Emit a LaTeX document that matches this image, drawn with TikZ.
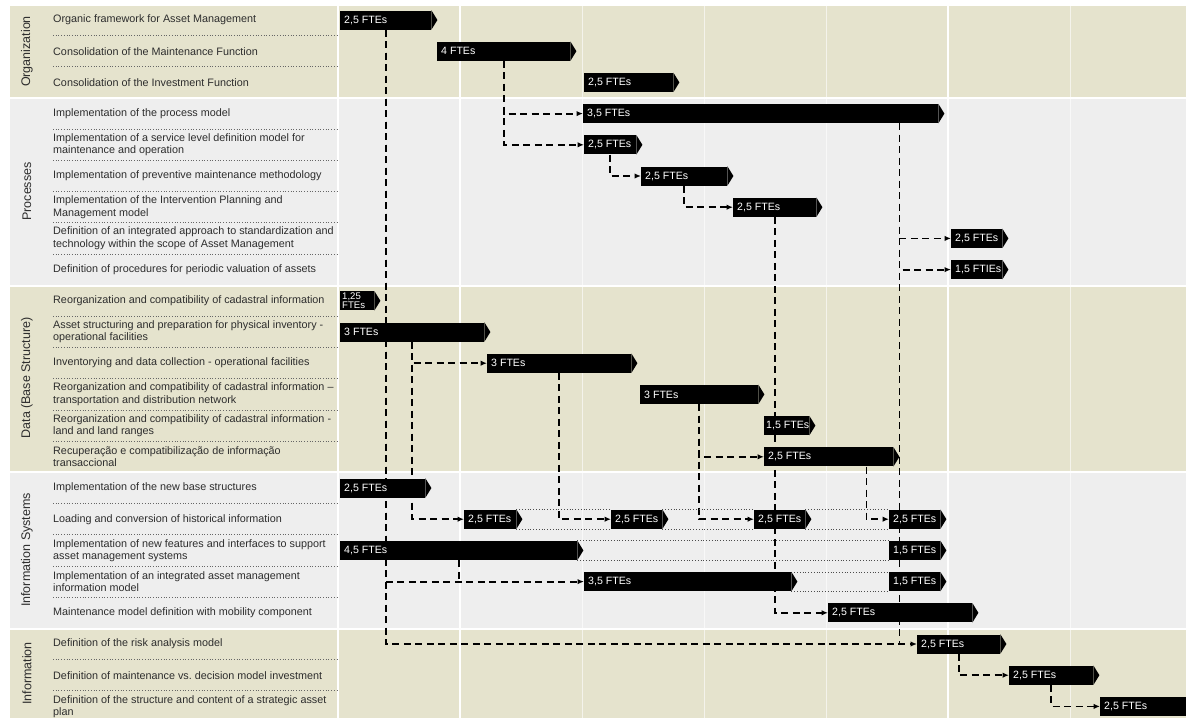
\documentclass[tikz,border=0pt]{standalone}
\usepackage{fontspec}
\setmainfont{Liberation Sans}
\usetikzlibrary{arrows.meta,backgrounds}
\definecolor{beige}{RGB}{229,227,205}
\definecolor{pale}{RGB}{238,238,238}
\definecolor{ink}{RGB}{45,45,45}

\begin{document}
\begin{tikzpicture}[x=1pt,y=-1pt,>={Latex[length=6.5pt,width=5.5pt]}]
  \tikzstyle{group}=[rotate=90,text=ink,font=\fontsize{12.5}{14}\selectfont]
  \tikzstyle{task}=[anchor=west,align=left,inner sep=0pt,text=ink,
        font=\fontsize{10.8}{12.4}\selectfont]
  \tikzstyle{fte}=[fill=black,anchor=west,minimum height=19pt,inner sep=0pt]
  \tikzstyle{fte text}=[text=white,anchor=west,inner sep=4pt,
        font=\fontsize{10.6}{12}\selectfont]
  \tikzstyle{dep}=[->,line width=1.8pt,dash pattern=on 7pt off 4.5pt]
  \tikzstyle{link}=[black!70,line width=0.8pt,dotted]
  \tikzstyle{sep}=[black!60,line width=0.7pt,dotted]

  \useasboundingbox (0,0) rectangle (1186,718);

  % bands and grid
  \begin{scope}[on background layer]
    \fill[beige] (10,6) rectangle (1186,97);
    \fill[pale] (10,99) rectangle (1186,284.5);
    \fill[beige] (10,286.5) rectangle (1186,471);
    \fill[pale] (10,473) rectangle (1186,627.5);
    \fill[beige] (10,629.5) rectangle (1186,718);
    \foreach \x in {582,704,826,1070}
      \draw[white,opacity=.6,line width=.8pt] (\x,6) -- (\x,718);
    \foreach \x in {338,460,948}
      \draw[white,line width=1.2pt] (\x,6) -- (\x,718);
    \foreach \i in {1,2,4,5,6,7,8,10,11,12,13,14,16,17,18,19,21,22}
      \draw[sep] (53,4.4+31.2*\i) -- (337,4.4+31.2*\i);
  \end{scope}

  % groups
  \node[group] (g1) at (27,51.5) {Organization};
  \node[group] (g2) at (27,191.5) {Processes};
  \node[group] (g3) at (27,378) {Data (Base Structure)};
  \node[group] (g4) at (27,550) {Information Systems};
  \node[group] (g5) at (27,673.5) {Information};

  % tasks
  \node[task] (t1) at (53,20) {Organic framework for Asset Management};
  \node[task] (t2) at (53,51.2) {Consolidation of the Maintenance Function};
  \node[task] (t3) at (53,82.4) {Consolidation of the Investment Function};
  \node[task] (t4) at (53,113.6) {Implementation of the process model};
  \node[task] (t5) at (53,144.8) {Implementation of a service level definition model for\\maintenance and operation};
  \node[task] (t6) at (53,176) {Implementation of preventive maintenance methodology};
  \node[task] (t7) at (53,207.2) {Implementation of the Intervention Planning and\\Management model};
  \node[task] (t8) at (53,238.4) {Definition of an integrated approach to standardization and\\technology within the scope of Asset Management};
  \node[task] (t9) at (53,269.6) {Definition of procedures for periodic valuation of assets};
  \node[task] (t10) at (53,300.8) {Reorganization and compatibility of cadastral information};
  \node[task] (t11) at (53,332) {Asset structuring and preparation for physical inventory -\\operational facilities};
  \node[task] (t12) at (53,363.2) {Inventorying and data collection - operational facilities};
  \node[task] (t13) at (53,394.4) {Reorganization and compatibility of cadastral information –\\transportation and distribution network};
  \node[task] (t14) at (53,425.6) {Reorganization and compatibility of cadastral information -\\land and land ranges};
  \node[task] (t15) at (53,456.8) {Recuperação e compatibilização de informação\\transaccional};
  \node[task] (t16) at (53,488) {Implementation of the new base structures};
  \node[task] (t17) at (53,519.2) {Loading and conversion of historical information};
  \node[task] (t18) at (53,550.4) {Implementation of new features and interfaces to support\\asset management systems};
  \node[task] (t19) at (53,581.6) {Implementation of an integrated asset management\\information model};
  \node[task] (t20) at (53,612.8) {Maintenance model definition with mobility component};
  \node[task] (t21) at (53,644) {Definition of the risk analysis model};
  \node[task] (t22) at (53,675.2) {Definition of maintenance vs.\ decision model investment};
  \node[task] (t23) at (53,706.4) {Definition of the structure and content of a strategic asset\\plan};

  % effort bars
  \node[fte,minimum width=91pt,label={[fte text]west:{2,5 FTEs}}] (o1) at (340,20) {};
  \node[fte,minimum width=133pt,label={[fte text]west:{4 FTEs}}] (o2) at (437,51.2) {};
  \node[fte,minimum width=89pt,label={[fte text]west:{2,5 FTEs}}] (o3) at (584,82.4) {};
  \node[fte,minimum width=355pt,label={[fte text]west:{3,5 FTEs}}] (p1) at (583,113.6) {};
  \node[fte,minimum width=52pt,label={[fte text]west:{2,5 FTEs}}] (p2) at (584,144.8) {};
  \node[fte,minimum width=86pt,label={[fte text]west:{2,5 FTEs}}] (p3) at (641,176) {};
  \node[fte,minimum width=83pt,label={[fte text]west:{2,5 FTEs}}] (p4) at (733,207.2) {};
  \node[fte,minimum width=51pt,label={[fte text]west:{2,5 FTEs}}] (p5) at (951,238.4) {};
  \node[fte,minimum width=51pt,label={[fte text]west:{1,5 FTIEs}}] (p6) at (951,269.6) {};
  \node[fte,minimum width=34pt,label={[fte text,inner xsep=2pt,inner ysep=0pt,align=left,
        font=\fontsize{9.6}{8.4}\selectfont]west:{1,25\\FTEs}}] (d1) at (340,300.8) {};
  \node[fte,minimum width=144pt,label={[fte text]west:{3 FTEs}}] (d2) at (340,332) {};
  \node[fte,minimum width=144pt,label={[fte text]west:{3 FTEs}}] (d3) at (487,363.2) {};
  \node[fte,minimum width=118pt,label={[fte text]west:{3 FTEs}}] (d4) at (640,394.4) {};
  \node[fte,minimum width=45pt,label={[fte text,inner xsep=2pt]west:{1,5 FTEs}}] (d5) at (764,425.6) {};
  \node[fte,minimum width=129pt,label={[fte text]west:{2,5 FTEs}}] (d6) at (764,456.8) {};
  \node[fte,minimum width=85pt,label={[fte text]west:{2,5 FTEs}}] (s1) at (340,488) {};
  \node[fte,minimum width=52pt,label={[fte text]west:{2,5 FTEs}}] (s2a) at (464,519.2) {};
  \node[fte,minimum width=51pt,label={[fte text]west:{2,5 FTEs}}] (s2b) at (611,519.2) {};
  \node[fte,minimum width=51pt,label={[fte text]west:{2,5 FTEs}}] (s2c) at (754,519.2) {};
  \node[fte,minimum width=51pt,label={[fte text]west:{2,5 FTEs}}] (s2d) at (889,519.2) {};
  \node[fte,minimum width=237pt,label={[fte text]west:{4,5 FTEs}}] (s3a) at (340,550.4) {};
  \node[fte,minimum width=51pt,label={[fte text]west:{1,5 FTEs}}] (s3b) at (889,550.4) {};
  \node[fte,minimum width=207pt,label={[fte text]west:{3,5 FTEs}}] (s4a) at (584,581.6) {};
  \node[fte,minimum width=51pt,label={[fte text]west:{1,5 FTEs}}] (s4b) at (889,581.6) {};
  \node[fte,minimum width=144pt,label={[fte text]west:{2,5 FTEs}}] (s5) at (828,612.8) {};
  \node[fte,minimum width=83pt,label={[fte text]west:{2,5 FTEs}}] (i1) at (917,644) {};
  \node[fte,minimum width=84pt,label={[fte text]west:{2,5 FTEs}}] (i2) at (1009,675.2) {};
  \node[fte,minimum width=86pt,label={[fte text]west:{2,5 FTEs}}] (i3) at (1100,706.4) {};

  \foreach \b in {o1,o2,o3,p1,p2,p3,p4,p5,p6,d1,d2,d3,d4,d5,d6,s1,s2a,s2b,s2c,s2d,s3a,s3b,s4a,s4b,s5,i1,i2}
    \fill (\b.north east) -- ([xshift=6pt]\b.east) -- (\b.south east) -- cycle;

  \coordinate (p1drop) at ([xshift=-39pt]p1.south east);
  \coordinate (d6drop) at ([xshift=-27pt]d6.south east);

  % dependencies
  \begin{scope}[on background layer]
    \draw[dep] (o1.south) |- (i1.west);
    \draw[dep] (o1.south) |- (s4a.west);
    \draw[dep,-] (s3a.south) -- (s3a.south |- s4a.west);
    \draw[dep] (o2.south) |- (p1.west);
    \draw[dep] (o2.south) |- (p2.west);
    \draw[dep] (p2.south) |- (p3.west);
    \draw[dep] (p3.south) |- (p4.west);
    \draw[dep] (p4.south) |- (s5.west);
    \draw[dep] (p1drop) |- (p5.west);
    \draw[dep] (p1drop) |- (p6.west);
    \draw[dep,-] (p1drop) -- (p1drop |- i1.west);
    \draw[dep] (d2.south) |- (d3.west);
    \draw[dep] (d2.south) |- (s2a.west);
    \draw[dep] (d3.south) |- (s2b.west);
    \draw[dep] (d4.south) |- (d6.west);
    \draw[dep] (d4.south) |- (s2c.west);
    \draw[dep] (d6drop) |- (s2d.west);
    \draw[dep] (i1.south) |- (i2.west);
    \draw[dep] (i2.south) |- (i3.west);
    \foreach \a/\b in {s2a/s2b,s2b/s2c,s2c/s2d,s3a/s3b,s4a/s4b} {
      \draw[link] (\a.north east) -- (\b.north west);
      \draw[link] (\a.south east) -- (\b.south west);
    }
  \end{scope}
\end{tikzpicture}
\end{document}
